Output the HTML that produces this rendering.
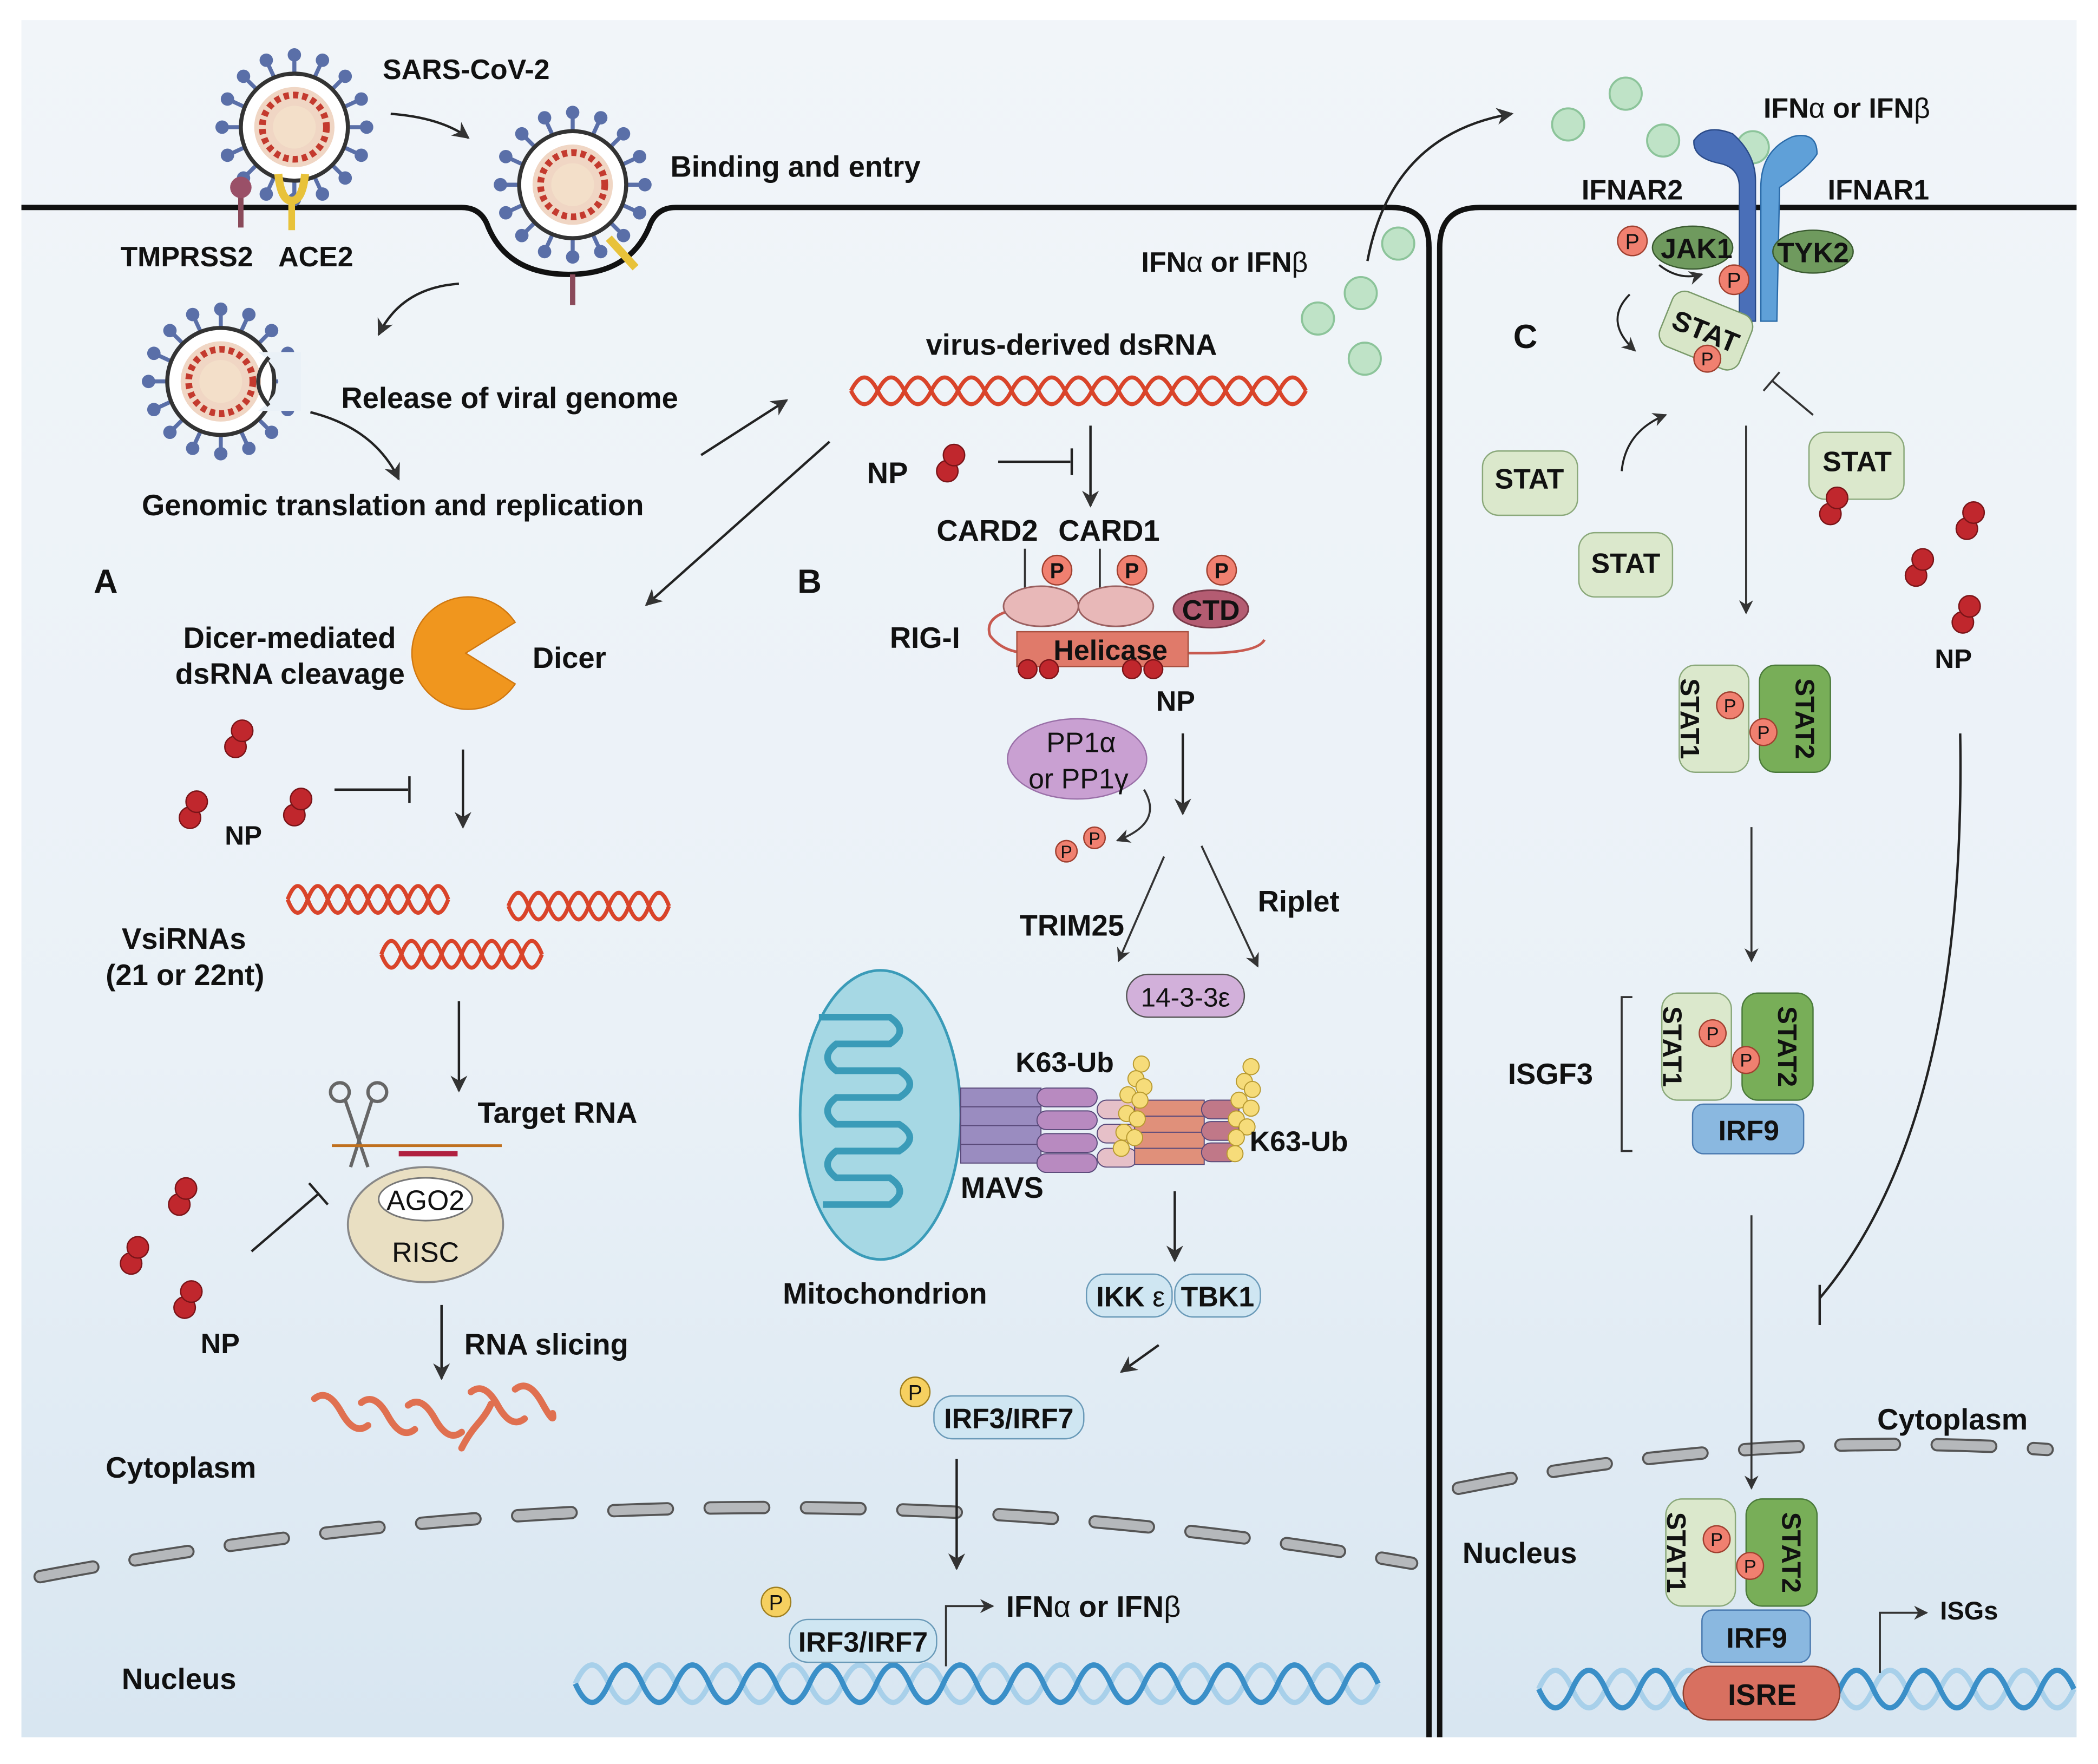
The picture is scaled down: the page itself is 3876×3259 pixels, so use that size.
<!DOCTYPE html>
<html><head><meta charset="utf-8"><style>
html,body{margin:0;padding:0;background:#fff}
svg{display:block}
text{font-family:"Liberation Sans",sans-serif;font-weight:bold;fill:#111}
</style></head><body>
<svg width="3876" height="3259" viewBox="0 0 1568 1318" preserveAspectRatio="none" xmlns="http://www.w3.org/2000/svg">
<defs>
<linearGradient id="bg" x1="0" y1="0" x2="0" y2="1">
<stop offset="0" stop-color="#f1f5f9"/><stop offset="0.6" stop-color="#eaf1f7"/><stop offset="1" stop-color="#d8e6f1"/>
</linearGradient>
<marker id="ar" viewBox="0 0 10 10" refX="9" refY="5" markerWidth="7" markerHeight="7" orient="auto-start-reverse"><path d="M0,0 L10,5 L0,10 L3,5 z" fill="#333"/></marker>
<g id="virus">
<g stroke="#5a6fa8" stroke-width="3">
<line x1="0" y1="-40" x2="0" y2="-54"/><line x1="0" y1="40" x2="0" y2="54"/><line x1="-40" y1="0" x2="-54" y2="0"/><line x1="40" y1="0" x2="54" y2="0"/>
<line x1="28" y1="28" x2="38" y2="38"/><line x1="-28" y1="28" x2="-38" y2="38"/><line x1="28" y1="-28" x2="38" y2="-38"/><line x1="-28" y1="-28" x2="-38" y2="-38"/>
<line x1="15" y1="-37" x2="21" y2="-50"/><line x1="-15" y1="-37" x2="-21" y2="-50"/><line x1="15" y1="37" x2="21" y2="50"/><line x1="-15" y1="37" x2="-21" y2="50"/>
<line x1="37" y1="15" x2="50" y2="21"/><line x1="37" y1="-15" x2="50" y2="-21"/><line x1="-37" y1="15" x2="-50" y2="21"/><line x1="-37" y1="-15" x2="-50" y2="-21"/>
</g>
<g fill="#5a6fa8">
<circle cx="0" cy="-54" r="5"/><circle cx="0" cy="54" r="5"/><circle cx="-54" cy="0" r="5"/><circle cx="54" cy="0" r="5"/>
<circle cx="38" cy="38" r="5"/><circle cx="-38" cy="38" r="5"/><circle cx="38" cy="-38" r="5"/><circle cx="-38" cy="-38" r="5"/>
<circle cx="21" cy="-50" r="5"/><circle cx="-21" cy="-50" r="5"/><circle cx="21" cy="50" r="5"/><circle cx="-21" cy="50" r="5"/>
<circle cx="50" cy="21" r="5"/><circle cx="50" cy="-21" r="5"/><circle cx="-50" cy="21" r="5"/><circle cx="-50" cy="-21" r="5"/>
</g>
<circle r="40" fill="#fff" stroke="#333" stroke-width="3"/>
<circle r="30" fill="#f0d6c4"/>
<circle r="24" fill="none" stroke="#c43a2e" stroke-width="5" stroke-dasharray="4 3"/>
<circle r="16" fill="#f3dfc9"/>
</g>
<g id="np"><circle cx="0" cy="0" r="8" fill="#c0272d" stroke="#7a1418" stroke-width="1"/><circle cx="5" cy="-12" r="8" fill="#c0272d" stroke="#7a1418" stroke-width="1"/></g>
<g id="ifn"><circle r="12" fill="#bfe3c7" stroke="#8cc49a" stroke-width="1.5"/></g>
</defs>

<rect x="16" y="15" width="1536" height="1283" fill="url(#bg)"/>

<path d="M16,155 L345,155 Q360,155 365,170 Q380,205 425,205 Q470,205 485,170 Q490,155 505,155 L1040,155 Q1068,155 1068,185 L1068,1298" fill="none" stroke="#111" stroke-width="4"/>
<path d="M1076,1298 L1076,185 Q1076,155 1106,155 L1552,155" fill="none" stroke="#111" stroke-width="4"/>

<path d="M30,1178 Q550,1080 1055,1168" fill="none" stroke="#555" stroke-width="10" stroke-dasharray="40 32" stroke-linecap="round"/>
<path d="M30,1178 Q550,1080 1055,1168" fill="none" stroke="#b5b8bb" stroke-width="7" stroke-dasharray="40 32" stroke-linecap="round"/>
<path d="M1090,1112 Q1310,1068 1530,1083" fill="none" stroke="#555" stroke-width="10" stroke-dasharray="40 32" stroke-linecap="round"/>
<path d="M1090,1112 Q1310,1068 1530,1083" fill="none" stroke="#b5b8bb" stroke-width="7" stroke-dasharray="40 32" stroke-linecap="round"/>

<use href="#virus" x="220" y="95"/>
<use href="#virus" x="428" y="138"/>
<g transform="translate(165,285)"><use href="#virus"/><path d="M28,-22 Q58,0 28,22 L60,22 L60,-22 Z" fill="#eaf1f7"/><path d="M36,-18 Q20,0 36,18" fill="none" stroke="#333" stroke-width="3"/></g>
<line x1="180" y1="140" x2="180" y2="170" stroke="#8a4a5a" stroke-width="4"/><circle cx="180" cy="140" r="8" fill="#9a5068"/>
<path d="M208,130 Q210,150 218,150 Q226,150 228,130" fill="none" stroke="#e8c23a" stroke-width="6"/><line x1="218" y1="150" x2="218" y2="172" stroke="#e8c23a" stroke-width="5"/>
<line x1="428" y1="205" x2="428" y2="228" stroke="#8a4a5a" stroke-width="4"/>
<path d="M455,178 L475,200" stroke="#e8c23a" stroke-width="6"/>

<text x="286" y="59" font-size="21">SARS-CoV-2</text>
<text x="501" y="132" font-size="22">Binding and entry</text>
<text x="90" y="199" font-size="21">TMPRSS2</text><text x="208" y="199" font-size="21">ACE2</text>
<text x="255" y="305" font-size="22">Release of viral genome</text>
<text x="106" y="385" font-size="22">Genomic translation and replication</text>
<path d="M292,85 Q330,88 350,103" fill="none" stroke="#222" stroke-width="1.8" marker-end="url(#ar)"/>
<path d="M343,212 Q300,215 283,250" fill="none" stroke="#222" stroke-width="1.8" marker-end="url(#ar)"/>
<path d="M232,308 Q280,320 298,358" fill="none" stroke="#222" stroke-width="1.8" marker-end="url(#ar)"/>
<line x1="524" y1="340" x2="588" y2="299" stroke="#222" stroke-width="1.8" marker-end="url(#ar)"/>
<line x1="620" y1="330" x2="483" y2="452" stroke="#222" stroke-width="1.8" marker-end="url(#ar)"/>

<text x="70" y="443" font-size="25">A</text>
<text x="137" y="484" font-size="22">Dicer-mediated</text>
<text x="131" y="511" font-size="22">dsRNA cleavage</text>
<path d="M348,488 L385,465 A42,42 0 1 0 385,511 Z" fill="#f0961e" stroke="#d07810" stroke-width="1"/>
<text x="398" y="499" font-size="22">Dicer</text>
<use href="#np" x="176" y="558"/><use href="#np" x="142" y="611"/><use href="#np" x="220" y="609"/>
<text x="168" y="631" font-size="20">NP</text>
<line x1="250" y1="590" x2="305" y2="590" stroke="#222" stroke-width="1.8"/><line x1="306" y1="580" x2="306" y2="600" stroke="#222" stroke-width="1.8"/>
<line x1="346" y1="560" x2="346" y2="618" stroke="#222" stroke-width="1.8" marker-end="url(#ar)"/>
<g fill="none" stroke="#d9442a" stroke-width="3">
<path d="M215,672 q7.5,-20 15,0 t15,0 t15,0 t15,0 t15,0 t15,0 t15,0 t15,0"/>
<path d="M215,672 q7.5,20 15,0 t15,0 t15,0 t15,0 t15,0 t15,0 t15,0 t15,0"/>
<path d="M380,677 q7.5,-20 15,0 t15,0 t15,0 t15,0 t15,0 t15,0 t15,0 t15,0"/>
<path d="M380,677 q7.5,20 15,0 t15,0 t15,0 t15,0 t15,0 t15,0 t15,0 t15,0"/>
<path d="M285,713 q7.5,-20 15,0 t15,0 t15,0 t15,0 t15,0 t15,0 t15,0 t15,0"/>
<path d="M285,713 q7.5,20 15,0 t15,0 t15,0 t15,0 t15,0 t15,0 t15,0 t15,0"/>
</g>
<text x="91" y="709" font-size="22">VsiRNAs</text>
<text x="79" y="736" font-size="22">(21 or 22nt)</text>
<line x1="343" y1="748" x2="343" y2="815" stroke="#222" stroke-width="1.8" marker-end="url(#ar)"/>
<text x="357" y="839" font-size="22">Target RNA</text>
<g stroke="#666" stroke-width="2.5" fill="none"><circle cx="254" cy="816" r="7"/><circle cx="282" cy="816" r="7"/><path d="M258,822 L275,872 M278,822 L262,872"/></g>
<line x1="248" y1="856" x2="375" y2="856" stroke="#c0701e" stroke-width="2"/>
<line x1="298" y1="862" x2="342" y2="862" stroke="#b02040" stroke-width="4"/>
<ellipse cx="318" cy="915" rx="58" ry="43" fill="#e9dfc2" stroke="#888" stroke-width="1.5"/>
<ellipse cx="318" cy="896" rx="35" ry="16" fill="#fff" stroke="#777" stroke-width="1.2"/>
<text x="318" y="904" font-size="21" text-anchor="middle" style="font-weight:normal">AGO2</text>
<text x="318" y="943" font-size="21" text-anchor="middle" style="font-weight:normal">RISC</text>
<use href="#np" x="134" y="900"/><use href="#np" x="98" y="944"/><use href="#np" x="138" y="977"/>
<text x="150" y="1011" font-size="21">NP</text>
<line x1="188" y1="935" x2="238" y2="892" stroke="#222" stroke-width="1.8"/><line x1="231" y1="884" x2="245" y2="900" stroke="#222" stroke-width="1.8"/>
<line x1="330" y1="975" x2="330" y2="1030" stroke="#222" stroke-width="1.8" marker-end="url(#ar)"/>
<text x="347" y="1012" font-size="22">RNA slicing</text>
<g fill="none" stroke="#e07050" stroke-width="5" stroke-linecap="round">
<path d="M235,1045 q10,-8 20,10 t20,10"/><path d="M270,1048 q10,-8 20,10 t20,10"/><path d="M305,1050 q10,-8 20,10 t20,10"/><path d="M352,1040 q10,-8 20,10 t20,10"/><path d="M385,1038 q10,-8 20,10 t8,8"/><path d="M345,1082 q5,-10 12,-18 t10,-15"/>
</g>
<text x="79" y="1104" font-size="22">Cytoplasm</text>
<text x="91" y="1262" font-size="22">Nucleus</text>

<text x="596" y="443" font-size="25">B</text>
<text x="692" y="265" font-size="22">virus-derived dsRNA</text>
<g fill="none" stroke="#d9442a" stroke-width="3">
<path d="M636,292 q10,-20 20,0 t20,0 t20,0 t20,0 t20,0 t20,0 t20,0 t20,0 t20,0 t20,0 t20,0 t20,0 t20,0 t20,0 t20,0 t20,0 t20,0"/>
<path d="M636,292 q10,20 20,0 t20,0 t20,0 t20,0 t20,0 t20,0 t20,0 t20,0 t20,0 t20,0 t20,0 t20,0 t20,0 t20,0 t20,0 t20,0 t20,0"/>
</g>
<text x="648" y="361" font-size="22">NP</text>
<use href="#np" x="708" y="352"/>
<line x1="746" y1="345" x2="800" y2="345" stroke="#222" stroke-width="1.8"/><line x1="801" y1="335" x2="801" y2="355" stroke="#222" stroke-width="1.8"/>
<line x1="815" y1="318" x2="815" y2="378" stroke="#222" stroke-width="1.8" marker-end="url(#ar)"/>
<text x="700" y="404" font-size="22">CARD2</text><text x="791" y="404" font-size="22">CARD1</text>
<text x="665" y="484" font-size="22">RIG-I</text>
<path d="M760,455 Q735,460 740,475 Q750,488 770,488 L900,488 Q940,488 945,478" fill="none" stroke="#c85a50" stroke-width="2"/>
<line x1="766" y1="410" x2="766" y2="440" stroke="#333" stroke-width="1.5"/><line x1="822" y1="410" x2="822" y2="440" stroke="#333" stroke-width="1.5"/>
<ellipse cx="778" cy="453" rx="28" ry="15" fill="#e8b8b8" stroke="#9a6060" stroke-width="1.2"/>
<ellipse cx="834" cy="453" rx="28" ry="15" fill="#e8b8b8" stroke="#9a6060" stroke-width="1.2"/>
<ellipse cx="905" cy="455" rx="28" ry="14" fill="#b45c72" stroke="#7a3a4a" stroke-width="1.2"/>
<text x="905" y="463" font-size="21" text-anchor="middle">CTD</text>
<rect x="760" y="472" width="128" height="26" fill="#e07a6a" stroke="#a85040" stroke-width="1"/>
<text x="830" y="493" font-size="21" text-anchor="middle">Helicase</text>
<g fill="#f08070" stroke="#a04030" stroke-width="1"><circle cx="790" cy="426" r="11"/><circle cx="846" cy="426" r="11"/><circle cx="913" cy="426" r="11"/></g>
<g font-size="16" text-anchor="middle" style="font-weight:normal"><text x="790" y="432">P</text><text x="846" y="432">P</text><text x="913" y="432">P</text></g>
<g fill="#c0272d" stroke="#7a1418"><circle cx="768" cy="500" r="7"/><circle cx="784" cy="500" r="7"/><circle cx="846" cy="500" r="7"/><circle cx="862" cy="500" r="7"/></g>
<text x="864" y="531" font-size="21">NP</text>
<ellipse cx="805" cy="567" rx="52" ry="30" fill="#c9a0d2" stroke="#9a70a8" stroke-width="1"/>
<text x="808" y="562" font-size="21" text-anchor="middle" style="font-weight:normal">PP1α</text>
<text x="806" y="589" font-size="21" text-anchor="middle" style="font-weight:normal">or PP1γ</text>
<path d="M855,590 Q870,615 835,628" fill="none" stroke="#333" stroke-width="1.5" marker-end="url(#ar)"/>
<g fill="#f08070" stroke="#a04030"><circle cx="797" cy="636" r="8"/><circle cx="818" cy="626" r="8"/></g>
<text x="797" y="641" font-size="13" text-anchor="middle" style="font-weight:normal">P</text><text x="818" y="631" font-size="13" text-anchor="middle" style="font-weight:normal">P</text>
<line x1="884" y1="548" x2="884" y2="608" stroke="#222" stroke-width="1.8" marker-end="url(#ar)"/>
<line x1="870" y1="640" x2="836" y2="718" stroke="#333" stroke-width="1.5" marker-end="url(#ar)"/>
<line x1="898" y1="632" x2="940" y2="722" stroke="#333" stroke-width="1.5" marker-end="url(#ar)"/>
<text x="762" y="699" font-size="22">TRIM25</text>
<text x="940" y="681" font-size="22">Riplet</text>
<rect x="842" y="728" width="88" height="32" rx="16" fill="#d2b0da" stroke="#555" stroke-width="1"/>
<text x="886" y="752" font-size="20" text-anchor="middle" style="font-weight:normal">14-3-3ε</text>
<ellipse cx="658" cy="833" rx="60" ry="108" fill="#a6d8e4" stroke="#3a9bb8" stroke-width="2"/>
<path d="M612,760 L665,760 Q680,770 665,780 L625,780 Q612,790 625,800 L672,800 Q688,810 672,820 L625,820 Q612,830 625,840 L672,840 Q688,850 672,860 L625,860 Q612,870 625,880 L665,880 Q680,890 665,900 L615,900" fill="none" stroke="#3a9bb8" stroke-width="5"/>
<text x="585" y="974" font-size="22">Mitochondrion</text>
<g stroke="#5a4a7a" stroke-width="0.8">
<rect x="718" y="813" width="60" height="14" fill="#9a8cc0"/><rect x="718" y="827" width="60" height="14" fill="#9a8cc0"/><rect x="718" y="841" width="60" height="14" fill="#9a8cc0"/><rect x="718" y="855" width="60" height="14" fill="#9a8cc0"/>
<rect x="775" y="813" width="45" height="14" rx="7" fill="#b88ac0"/><rect x="775" y="830" width="45" height="14" rx="7" fill="#b88ac0"/><rect x="775" y="847" width="45" height="14" rx="7" fill="#b88ac0"/><rect x="775" y="862" width="45" height="14" rx="7" fill="#b88ac0"/>
<rect x="820" y="822" width="30" height="14" rx="7" fill="#e6c0c8"/><rect x="820" y="840" width="30" height="14" rx="7" fill="#e6c0c8"/><rect x="820" y="858" width="30" height="14" rx="7" fill="#e6c0c8"/>
<rect x="848" y="822" width="52" height="12" fill="#e0907a"/><rect x="848" y="834" width="52" height="12" fill="#e0907a"/><rect x="848" y="846" width="52" height="12" fill="#e0907a"/><rect x="848" y="858" width="52" height="12" fill="#e0907a"/>
<rect x="898" y="822" width="28" height="14" rx="7" fill="#c07888"/><rect x="898" y="838" width="28" height="14" rx="7" fill="#c07888"/><rect x="898" y="854" width="28" height="14" rx="7" fill="#c07888"/>
</g>
<g fill="#f6dc7a" stroke="#b89a30" stroke-width="0.8">
<circle cx="853" cy="795" r="6"/><circle cx="849" cy="806" r="6"/><circle cx="855" cy="812" r="6"/><circle cx="843" cy="818" r="6"/><circle cx="852" cy="822" r="6"/><circle cx="842" cy="832" r="6"/><circle cx="850" cy="836" r="6"/><circle cx="840" cy="846" r="6"/><circle cx="848" cy="850" r="6"/><circle cx="838" cy="858" r="6"/>
<circle cx="935" cy="797" r="6"/><circle cx="930" cy="808" r="6"/><circle cx="936" cy="814" r="6"/><circle cx="926" cy="822" r="6"/><circle cx="935" cy="828" r="6"/><circle cx="924" cy="836" r="6"/><circle cx="932" cy="842" r="6"/><circle cx="924" cy="850" r="6"/><circle cx="923" cy="862" r="6"/>
</g>
<text x="759" y="801" font-size="21">K63-Ub</text>
<text x="934" y="860" font-size="21">K63-Ub</text>
<text x="718" y="895" font-size="22">MAVS</text>
<line x1="878" y1="890" x2="878" y2="942" stroke="#222" stroke-width="1.8" marker-end="url(#ar)"/>
<rect x="812" y="952" width="64" height="32" rx="14" fill="#cfe6f2" stroke="#6a9ab8" stroke-width="1"/>
<rect x="878" y="952" width="64" height="32" rx="14" fill="#cfe6f2" stroke="#6a9ab8" stroke-width="1"/>
<text x="845" y="976" font-size="21" text-anchor="middle">IKK <tspan style="font-weight:normal">ε</tspan></text>
<text x="910" y="976" font-size="21" text-anchor="middle">TBK1</text>
<line x1="866" y1="1005" x2="838" y2="1025" stroke="#222" stroke-width="1.8" marker-end="url(#ar)"/>
<rect x="698" y="1043" width="112" height="32" rx="14" fill="#cfe6f2" stroke="#6a9ab8" stroke-width="1"/>
<text x="754" y="1067" font-size="21" text-anchor="middle">IRF3/IRF7</text>
<circle cx="684" cy="1040" r="11" fill="#f6d060" stroke="#a08020"/><text x="684" y="1046" font-size="16" text-anchor="middle" style="font-weight:normal">P</text>
<line x1="715" y1="1090" x2="715" y2="1172" stroke="#222" stroke-width="1.8" marker-end="url(#ar)"/>
<g fill="none" stroke-width="4">
<path d="M430,1258 q12.5,-28 25,0 t25,0 t25,0 t25,0 t25,0 t25,0 t25,0 t25,0 t25,0 t25,0 t25,0 t25,0 t25,0 t25,0 t25,0 t25,0 t25,0 t25,0 t25,0 t25,0 t25,0 t25,0 t25,0 t25,0" stroke="#a8d0ea"/>
<path d="M430,1258 q12.5,28 25,0 t25,0 t25,0 t25,0 t25,0 t25,0 t25,0 t25,0 t25,0 t25,0 t25,0 t25,0 t25,0 t25,0 t25,0 t25,0 t25,0 t25,0 t25,0 t25,0 t25,0 t25,0 t25,0 t25,0" stroke="#3a8fc8"/>
</g>
<rect x="590" y="1210" width="110" height="32" rx="14" fill="#cfe6f2" stroke="#6a9ab8" stroke-width="1"/>
<text x="645" y="1234" font-size="21" text-anchor="middle">IRF3/IRF7</text>
<circle cx="580" cy="1197" r="11" fill="#f6d060" stroke="#a08020"/><text x="580" y="1203" font-size="16" text-anchor="middle" style="font-weight:normal">P</text>
<path d="M707,1245 L707,1200 L742,1200" fill="none" stroke="#333" stroke-width="1.5" marker-end="url(#ar)"/>
<text x="752" y="1208" font-size="22">IFN<tspan style="font-weight:normal">α</tspan> or IFN<tspan style="font-weight:normal">β</tspan></text>

<text x="853" y="203" font-size="21">IFN<tspan style="font-weight:normal">α</tspan> or IFN<tspan style="font-weight:normal">β</tspan></text>
<use href="#ifn" x="985" y="238"/><use href="#ifn" x="1017" y="219"/><use href="#ifn" x="1045" y="182"/><use href="#ifn" x="1020" y="268"/>
<path d="M1022,195 Q1040,100 1130,85" fill="none" stroke="#222" stroke-width="1.8" marker-end="url(#ar)"/>

<use href="#ifn" x="1172" y="93"/><use href="#ifn" x="1215" y="70"/><use href="#ifn" x="1243" y="105"/><use href="#ifn" x="1310" y="110"/>
<text x="1318" y="88" font-size="21">IFN<tspan style="font-weight:normal">α</tspan> or IFN<tspan style="font-weight:normal">β</tspan></text>
<text x="1182" y="149" font-size="21">IFNAR2</text>
<text x="1366" y="149" font-size="21">IFNAR1</text>
<path d="M1300,240 L1300,140 Q1300,125 1285,122 Q1265,118 1266,105 Q1275,92 1295,100 Q1312,115 1312,135 L1312,240 Z" fill="#4a6fb8" stroke="#2a4a88" stroke-width="1"/>
<path d="M1316,240 L1316,140 Q1316,112 1340,102 Q1358,98 1358,115 Q1352,125 1330,140 L1328,240 Z" fill="#5fa0d8" stroke="#2a6aa8" stroke-width="1"/>
<ellipse cx="1265" cy="185" rx="30" ry="16" fill="#6f9a5e" stroke="#3a5a30"/>
<text x="1268" y="193" font-size="21" text-anchor="middle">JAK1</text>
<ellipse cx="1355" cy="188" rx="30" ry="16" fill="#6f9a5e" stroke="#3a5a30"/>
<text x="1355" y="196" font-size="21" text-anchor="middle">TYK2</text>
<circle cx="1220" cy="180" r="11" fill="#f08070" stroke="#a04030"/><text x="1220" y="186" font-size="16" text-anchor="middle" style="font-weight:normal">P</text>
<circle cx="1296" cy="209" r="11" fill="#f08070" stroke="#a04030"/><text x="1296" y="215" font-size="16" text-anchor="middle" style="font-weight:normal">P</text>
<path d="M1240,198 Q1255,210 1272,205" fill="none" stroke="#222" stroke-width="1.5" marker-end="url(#ar)"/>
<g transform="translate(1275,247) rotate(22)"><rect x="-32" y="-22" width="64" height="44" rx="10" fill="#d8e6c8" stroke="#7a9a6a"/><text x="0" y="8" font-size="21" text-anchor="middle">STAT</text></g>
<circle cx="1276" cy="268" r="10" fill="#f08070" stroke="#a04030"/><text x="1276" y="273" font-size="14" text-anchor="middle" style="font-weight:normal">P</text>
<path d="M1218,220 Q1198,240 1222,262" fill="none" stroke="#222" stroke-width="1.5" marker-end="url(#ar)"/>
<text x="1131" y="260" font-size="25">C</text>
<rect x="1108" y="337" width="71" height="48" rx="12" fill="#dbe8cc" stroke="#8aa87a"/><text x="1143" y="365" font-size="21" text-anchor="middle">STAT</text>
<rect x="1180" y="398" width="70" height="48" rx="12" fill="#dbe8cc" stroke="#8aa87a"/><text x="1215" y="428" font-size="21" text-anchor="middle">STAT</text>
<rect x="1352" y="323" width="71" height="50" rx="12" fill="#dbe8cc" stroke="#8aa87a"/><text x="1388" y="352" font-size="21" text-anchor="middle">STAT</text>
<use href="#np" x="1368" y="384"/>
<path d="M1212,352 Q1215,322 1245,310" fill="none" stroke="#222" stroke-width="1.5" marker-end="url(#ar)"/>
<line x1="1355" y1="310" x2="1325" y2="285" stroke="#333" stroke-width="1.5"/><line x1="1318" y1="292" x2="1330" y2="278" stroke="#333" stroke-width="1.5"/>
<use href="#np" x="1470" y="395"/><use href="#np" x="1432" y="430"/><use href="#np" x="1467" y="465"/>
<text x="1446" y="499" font-size="20">NP</text>
<line x1="1305" y1="318" x2="1305" y2="458" stroke="#333" stroke-width="1.5" marker-end="url(#ar)"/>

<g>
<rect x="1255" y="497" width="52" height="80" rx="12" fill="#dbe8cc" stroke="#8aa87a"/>
<rect x="1315" y="497" width="53" height="80" rx="12" fill="#78ae58" stroke="#4a7a3a"/>
<text transform="translate(1256,537) rotate(90)" font-size="20" text-anchor="middle">STAT1</text>
<text transform="translate(1342,537) rotate(90)" font-size="20" text-anchor="middle">STAT2</text>
<circle cx="1293" cy="527" r="10" fill="#f08070" stroke="#a04030"/><text x="1293" y="532" font-size="14" text-anchor="middle" style="font-weight:normal">P</text>
<circle cx="1318" cy="547" r="10" fill="#f08070" stroke="#a04030"/><text x="1318" y="552" font-size="14" text-anchor="middle" style="font-weight:normal">P</text>
</g>
<line x1="1309" y1="618" x2="1309" y2="718" stroke="#333" stroke-width="1.5" marker-end="url(#ar)"/>
<g transform="translate(-13,245)">
<rect x="1255" y="497" width="52" height="80" rx="12" fill="#dbe8cc" stroke="#8aa87a"/>
<rect x="1315" y="497" width="53" height="80" rx="12" fill="#78ae58" stroke="#4a7a3a"/>
<text transform="translate(1256,537) rotate(90)" font-size="20" text-anchor="middle">STAT1</text>
<text transform="translate(1342,537) rotate(90)" font-size="20" text-anchor="middle">STAT2</text>
<circle cx="1293" cy="527" r="10" fill="#f08070" stroke="#a04030"/><text x="1293" y="532" font-size="14" text-anchor="middle" style="font-weight:normal">P</text>
<circle cx="1318" cy="547" r="10" fill="#f08070" stroke="#a04030"/><text x="1318" y="552" font-size="14" text-anchor="middle" style="font-weight:normal">P</text>
</g>
<rect x="1265" y="825" width="83" height="37" rx="8" fill="#8ab8e0" stroke="#4a7ab0"/><text x="1307" y="852" font-size="21" text-anchor="middle">IRF9</text>
<text x="1127" y="810" font-size="22">ISGF3</text>
<path d="M1220,745 L1212,745 L1212,860 L1220,860" fill="none" stroke="#333" stroke-width="1.5"/>
<line x1="1309" y1="908" x2="1309" y2="1112" stroke="#333" stroke-width="1.5" marker-end="url(#ar)"/>
<path d="M1465,548 Q1470,840 1360,970" fill="none" stroke="#222" stroke-width="1.8"/>
<line x1="1360" y1="960" x2="1360" y2="990" stroke="#222" stroke-width="1.8"/>
<text x="1403" y="1068" font-size="22">Cytoplasm</text>
<text x="1093" y="1168" font-size="22">Nucleus</text>
<g fill="none" stroke-width="4">
<path d="M1150,1262 q12.5,-28 25,0 t25,0 t25,0 t25,0 t25,0 t25,0 t25,0 t25,0 t25,0 t25,0 t25,0 t25,0 t25,0 t25,0 t25,0 t25,0" stroke="#a8d0ea"/>
<path d="M1150,1262 q12.5,28 25,0 t25,0 t25,0 t25,0 t25,0 t25,0 t25,0 t25,0 t25,0 t25,0 t25,0 t25,0 t25,0 t25,0 t25,0 t25,0" stroke="#3a8fc8"/>
</g>
<g transform="translate(-10,623)">
<rect x="1255" y="497" width="52" height="80" rx="12" fill="#dbe8cc" stroke="#8aa87a"/>
<rect x="1315" y="497" width="53" height="80" rx="12" fill="#78ae58" stroke="#4a7a3a"/>
<text transform="translate(1256,537) rotate(90)" font-size="20" text-anchor="middle">STAT1</text>
<text transform="translate(1342,537) rotate(90)" font-size="20" text-anchor="middle">STAT2</text>
<circle cx="1293" cy="527" r="10" fill="#f08070" stroke="#a04030"/><text x="1293" y="532" font-size="14" text-anchor="middle" style="font-weight:normal">P</text>
<circle cx="1318" cy="547" r="10" fill="#f08070" stroke="#a04030"/><text x="1318" y="552" font-size="14" text-anchor="middle" style="font-weight:normal">P</text>
</g>
<rect x="1272" y="1203" width="81" height="39" rx="8" fill="#8ab8e0" stroke="#4a7ab0"/><text x="1313" y="1231" font-size="21" text-anchor="middle">IRF9</text>
<rect x="1258" y="1245" width="117" height="40" rx="20" fill="#d87060" stroke="#904030"/><text x="1317" y="1274" font-size="22" text-anchor="middle">ISRE</text>
<path d="M1405,1250 L1405,1205 L1440,1205" fill="none" stroke="#333" stroke-width="1.5" marker-end="url(#ar)"/>
<text x="1450" y="1210" font-size="19">ISGs</text>
</svg>
</body></html>
